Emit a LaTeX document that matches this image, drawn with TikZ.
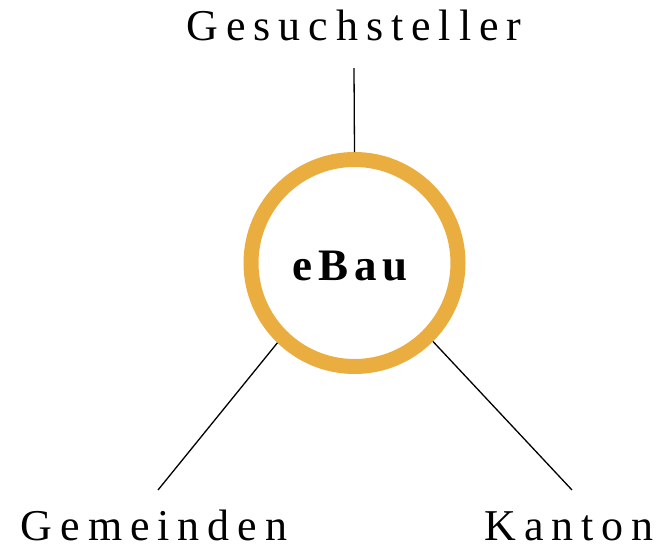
\documentclass[tikz,border=0pt]{standalone}
\usepackage{fontspec}
\setmainfont{Liberation Serif}
\newfontfamily\spaced[LetterSpace=18]{Liberation Serif}
\newfontfamily\spacedb[LetterSpace=13]{Liberation Serif}
\definecolor{ringc}{RGB}{234,174,64}
\begin{document}
\begin{tikzpicture}[x=1pt,y=-1pt,
  lbl/.style={anchor=base,inner sep=0pt,font=\fontsize{44}{44}\spaced},
  conn/.style={draw=black,line width=1.3pt},
  ring/.style={circle,draw=ringc,line width=15pt,minimum size=207pt,inner sep=0pt,fill=white}]
\useasboundingbox (0,0) rectangle (661,557);
\coordinate (tp) at (354,68);
\coordinate (lp) at (158,490);
\coordinate (rp) at (572,490);
\node[lbl] (ges) at (354,40) {Gesuchsteller};
\node[lbl] (gem) at (154,540) {Gemeinden};
\node[lbl] (kan) at (569,540) {Kanton};
\node[ring] (c) at (354.5,263) {};
\draw[conn] (c.90) -- (tp);
\draw[conn] (c.226) -- (lp);
\draw[conn] (c.315) -- (rp);
\node[anchor=base,inner sep=0pt,font=\fontsize{45}{45}\spacedb\bfseries] (eb) at (350,280) {eBau};
\end{tikzpicture}
\end{document}
